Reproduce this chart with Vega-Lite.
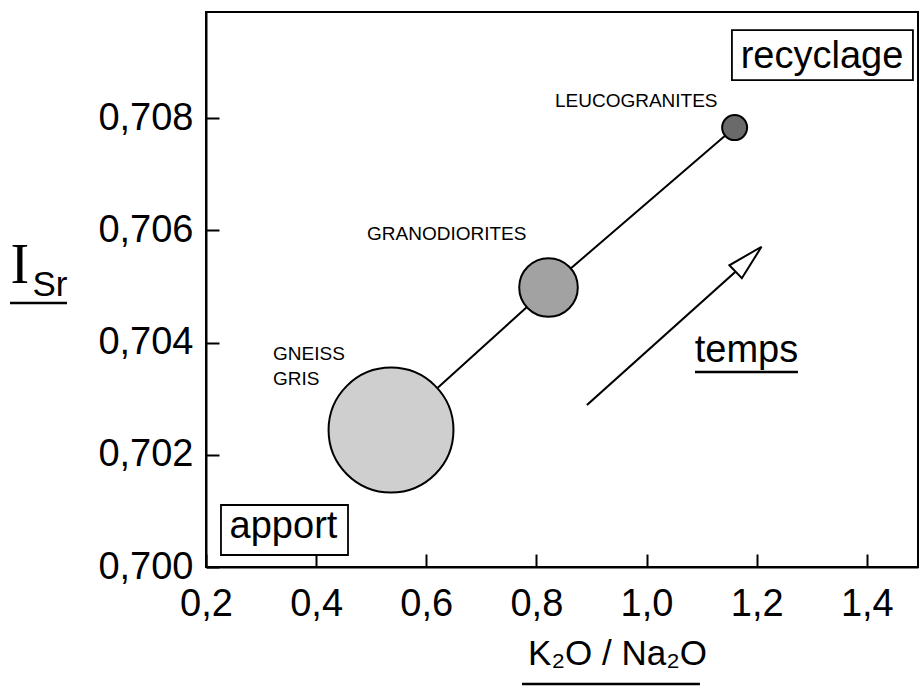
{
  "$schema": "https://vega.github.io/schema/vega-lite/v6.json",
  "width": 712,
  "height": 555,
  "autosize": {"type": "none"},
  "padding": {"left": 206, "top": 12, "right": 2, "bottom": 119},
  "background": "white",
  "view": {"stroke": "black", "strokeWidth": 2},
  "config": {"font": "Liberation Sans"},
  "datasets": {
    "roches": [
      {"nom": "GNEISS GRIS", "x": 0.536, "y": 0.70244, "volume": 100},
      {"nom": "GRANODIORITES", "x": 0.822, "y": 0.70498, "volume": 22},
      {"nom": "LEUCOGRANITES", "x": 1.16, "y": 0.70783, "volume": 4}
    ],
    "etiquettes": [
      {"texte": "LEUCOGRANITES", "x": 0.8337, "y": 0.7083},
      {"texte": "GRANODIORITES", "x": 0.4924, "y": 0.705933},
      {"texte": "GNEISS GRIS", "x": 0.3217, "y": 0.7038}
    ],
    "fleche": [
      {"x": 0.8918, "y": 0.702886, "x2": 1.1615, "y2": 0.705262}
    ],
    "pointe": [
      {"x": 1.1853, "y": 0.705484}
    ],
    "cadres": [
      {"cadre": "recyclage", "x": 1.1551, "x2": 1.4838, "y": 0.709568, "y2": 0.708677},
      {"cadre": "apport", "x": 0.2272, "x2": 0.4579, "y": 0.701105, "y2": 0.700214}
    ],
    "mots": [
      {"texte": "recyclage", "x": 1.3186, "y": 0.708891},
      {"texte": "apport", "x": 0.3407, "y": 0.700517},
      {"texte": "temps", "x": 1.1815, "y": 0.703653}
    ],
    "soulignements": [
      {"pour": "temps", "x": 1.088, "x2": 1.275, "y": 0.703474},
      {"pour": "I Sr", "x": -0.1559, "x2": -0.0524, "y": 0.704704},
      {"pour": "K2O / Na2O", "x": 0.7738, "x2": 1.097, "y": 0.697915}
    ]
  },
  "encoding": {
    "x": {"field": "x", "type": "quantitative", "scale": {"domain": [0.2, 1.493], "nice": false, "zero": false}, "axis": null},
    "y": {"field": "y", "type": "quantitative", "scale": {"domain": [0.7, 0.70989], "nice": false, "zero": false}, "axis": null}
  },
  "resolve": {"axis": {"x": "independent", "y": "independent"}},
  "layer": [
    {
      "data": {"name": "roches"},
      "mark": {"type": "line", "color": "black", "strokeWidth": 2},
      "encoding": {
        "x": {
          "field": "x", "type": "quantitative",
          "scale": {"domain": [0.2, 1.493], "nice": false, "zero": false},
          "axis": {
            "orient": "bottom",
            "values": [0.2, 0.4, 0.6, 0.8, 1.0, 1.2, 1.4],
            "labelExpr": "replace(format(datum.value, '.1f'), '.', ',')",
            "labelFont": "Liberation Sans", "labelFontSize": 38, "labelColor": "black",
            "labelBaseline": "top", "labelFlush": false, "labelOverlap": false,
            "labelPadding": 31, "tickSize": -13, "tickWidth": 2, "tickColor": "black",
            "domainColor": "black", "domainWidth": 2, "grid": false,
            "title": "K₂O / Na₂O", "titleFont": "Liberation Sans", "titleFontSize": 35,
            "titleFontWeight": "normal", "titleColor": "black",
            "titleX": 411, "titleY": 97, "titleAlign": "center", "titleBaseline": "alphabetic"
          }
        },
        "y": {
          "field": "y", "type": "quantitative",
          "scale": {"domain": [0.7, 0.70989], "nice": false, "zero": false},
          "axis": {
            "orient": "left",
            "values": [0.7, 0.702, 0.704, 0.706, 0.708],
            "labelExpr": "replace(format(datum.value, '.3f'), '.', ',')",
            "labelFont": "Liberation Sans", "labelFontSize": 38, "labelColor": "black",
            "labelFlush": false, "labelOverlap": false,
            "labelPadding": 26, "tickSize": -13, "tickWidth": 2, "tickColor": "black",
            "domainColor": "black", "domainWidth": 2, "grid": false,
            "title": "I", "titleFont": "Liberation Serif", "titleFontSize": 56,
            "titleFontWeight": "normal", "titleColor": "black", "titleAngle": 0,
            "titleX": -196, "titleY": 270, "titleAlign": "left", "titleBaseline": "alphabetic"
          }
        },
        "order": {"field": "x", "type": "quantitative"}
      }
    },
    {
      "data": {"name": "roches"},
      "mark": {"type": "circle", "opacity": 1, "stroke": "black", "strokeWidth": 2},
      "encoding": {
        "y": {
          "field": "y", "type": "quantitative",
          "scale": {"domain": [0.7, 0.70989], "nice": false, "zero": false},
          "axis": {
            "orient": "left", "labels": false, "ticks": false, "domain": false, "grid": false,
            "title": "Sr", "titleFont": "Liberation Sans", "titleFontSize": 35,
            "titleFontWeight": "normal", "titleColor": "black", "titleAngle": 0,
            "titleX": -174, "titleY": 283, "titleAlign": "left", "titleBaseline": "alphabetic"
          }
        },
        "size": {"field": "volume", "type": "quantitative", "scale": {"domain": [0, 100], "range": [0, 15600]}, "legend": null},
        "fill": {
          "field": "nom", "type": "nominal",
          "scale": {"domain": ["GNEISS GRIS", "GRANODIORITES", "LEUCOGRANITES"], "range": ["#cfcfcf", "#a2a2a2", "#6a6a6a"]},
          "legend": null
        }
      }
    },
    {
      "data": {"name": "fleche"},
      "mark": {"type": "rule", "color": "black", "strokeWidth": 2.2},
      "encoding": {
        "x2": {"field": "x2"},
        "y2": {"field": "y2"}
      }
    },
    {
      "data": {"name": "pointe"},
      "mark": {"type": "point", "shape": "M0,-1L0.5,1L-0.5,1Z", "size": 1296, "angle": 46, "filled": true, "fill": "white", "stroke": "black", "strokeWidth": 2, "opacity": 1},
      "encoding": {}
    },
    {
      "data": {"name": "etiquettes"},
      "mark": {"type": "text", "align": "left", "baseline": "middle", "fontSize": 19, "font": "Liberation Sans", "color": "black", "lineBreak": " ", "lineHeight": 25},
      "encoding": {"text": {"field": "texte"}}
    },
    {
      "data": {"name": "cadres"},
      "mark": {"type": "rect", "filled": false, "stroke": "black", "strokeWidth": 1.8},
      "encoding": {
        "x2": {"field": "x2"},
        "y2": {"field": "y2"}
      }
    },
    {
      "data": {"name": "mots"},
      "mark": {"type": "text", "align": "center", "baseline": "alphabetic", "fontSize": 38, "font": "Liberation Sans", "color": "black"},
      "encoding": {"text": {"field": "texte"}}
    },
    {
      "data": {"name": "soulignements"},
      "mark": {"type": "rule", "color": "black", "strokeWidth": 2.5},
      "encoding": {
        "x2": {"field": "x2"}
      }
    }
  ]
}
